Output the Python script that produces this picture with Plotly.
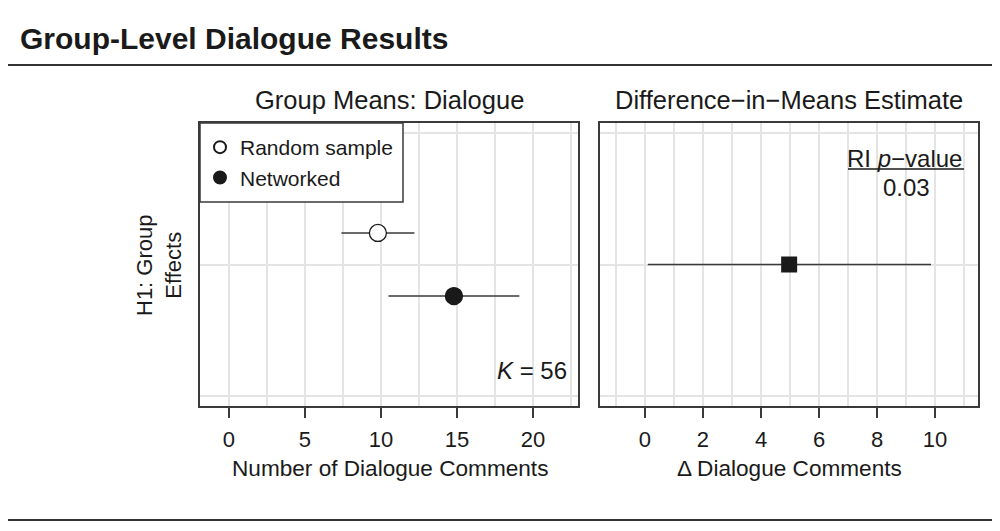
import plotly.graph_objects as go

# ---------------- data ----------------
groups = ["Random sample", "Networked"]
group_means = [9.8, 14.8]
group_ci_low = [7.4, 10.5]
group_ci_high = [12.2, 19.1]

diff_est = [4.97]
diff_ci_low = [0.1]
diff_ci_high = [9.86]

left_ticks = [0, 5, 10, 15, 20]
right_ticks = [0, 2, 4, 6, 8, 10]
p_value_text = "0.03"
n_groups_text = "56"
category_label = "H1: Group<br>Effects"

# ---------------- layout helpers ----------------
# the page body has an 8px margin, so the figure is drawn 8px in from the window edge
OFF = 8
W, H = 1000 - OFF, 531 - OFF
def px(x):
    return (x - OFF) / W
def py(y):
    return 1 - (y - OFF) / H

FONT = "Liberation Sans, Arial, Helvetica, sans-serif"
TXT = "#1a1a1a"
LINE = "#3a3a3a"
GRID = "#e4e4e4"

offsets = [0.24, -0.24]
fills = ["white", TXT]

fig = go.Figure()

for g, m, lo, hi, off, fc in zip(groups, group_means, group_ci_low, group_ci_high, offsets, fills):
    fig.add_trace(go.Scatter(
        x=[m], y=[off], name=g, mode="markers",
        marker=dict(symbol="circle", size=17, color=fc, line=dict(color=TXT, width=1.3)),
        error_x=dict(type="data", symmetric=False, array=[hi - m], arrayminus=[m - lo],
                     width=0, thickness=1.4, color=LINE),
        xaxis="x", yaxis="y", showlegend=True,
    ))

fig.add_trace(go.Scatter(
    x=diff_est, y=[0], mode="markers", name="Difference",
    marker=dict(symbol="square", size=16, color=TXT),
    error_x=dict(type="data", symmetric=False,
                 array=[h - e for h, e in zip(diff_ci_high, diff_est)],
                 arrayminus=[e - l for e, l in zip(diff_est, diff_ci_low)],
                 width=0, thickness=1.4, color=LINE),
    xaxis="x2", yaxis="y2", showlegend=False,
))

y_dom = [py(406), py(123)]
common_x = dict(
    showline=True, mirror=True, linecolor=LINE, linewidth=1.5,
    ticks="outside", ticklen=10, tickwidth=1.5, tickcolor=LINE,
    tickfont=dict(size=22, color=TXT, family=FONT),
    showgrid=True, gridcolor=GRID, gridwidth=1.5, zeroline=False,
    fixedrange=True, ticklabelstandoff=3,
)
common_y = dict(
    range=[-1.076, 1.076], tickmode="array", tickvals=[-1, 0, 1],
    showticklabels=False, ticks="", showgrid=True, gridcolor=GRID, gridwidth=1.5,
    showline=True, mirror=True, linecolor=LINE, linewidth=1.5, zeroline=False,
    domain=y_dom, fixedrange=True,
)

fig.update_layout(
    width=W, height=H,
    margin=dict(l=0, r=0, t=0, b=0),
    paper_bgcolor="white", plot_bgcolor="white",
    font=dict(family=FONT, color=TXT),
    xaxis=dict(domain=[px(200), px(578)], range=[-1.9, 22.96], tickmode="array",
               tickvals=left_ticks, anchor="y",
               minor=dict(dtick=2.5, tick0=0, showgrid=True, gridcolor=GRID, gridwidth=1.5, ticks=""),
               **common_x),
    yaxis=dict(anchor="x", **common_y),
    xaxis2=dict(domain=[px(600), px(978)], range=[-1.55, 11.48], tickmode="array",
                tickvals=right_ticks, anchor="y2",
                minor=dict(dtick=1, tick0=0, showgrid=True, gridcolor=GRID, gridwidth=1.5, ticks=""),
                **common_x),
    yaxis2=dict(anchor="x2", **common_y),
    legend=dict(x=px(200), y=py(127), xanchor="left", yanchor="top",
                bgcolor="rgba(0,0,0,0)", borderwidth=0,
                font=dict(size=21, color=TXT, family=FONT),
                itemsizing="constant", tracegroupgap=0),
    showlegend=True,
)

shapes = []
# dotted zero reference lines (cover grid line first)
for xr in ("x", "x2"):
    shapes.append(dict(type="line", xref=xr, yref="paper", x0=0, x1=0, y0=y_dom[0], y1=y_dom[1],
                       line=dict(color="white", width=2), layer="between"))
    shapes.append(dict(type="line", xref=xr, yref="paper", x0=0, x1=0, y0=y_dom[0], y1=y_dom[1],
                       line=dict(color="#9a9a9a", width=1, dash="dot"), layer="between"))
# legend box
shapes.append(dict(type="rect", xref="paper", yref="paper", x0=px(200), x1=px(403),
                   y0=py(202), y1=py(123), fillcolor="white",
                   line=dict(color=LINE, width=1.5), layer="above"))
# horizontal rules
for yy in (65, 520):
    shapes.append(dict(type="line", xref="paper", yref="paper", x0=0, x1=1, y0=py(yy), y1=py(yy),
                       line=dict(color="#333333", width=2)))
# underline for p-value header
shapes.append(dict(type="line", xref="paper", yref="paper", x0=px(848), x1=px(964),
                   y0=py(169), y1=py(169), line=dict(color=TXT, width=1.3)))
fig.update_layout(shapes=shapes)

ann = []
def A(text, x, y, size, xanchor="center", yanchor="middle", bold=False, angle=0):
    ann.append(dict(text=f"<b>{text}</b>" if bold else text, x=px(x), y=py(y), xref="paper", yref="paper",
                    showarrow=False, xanchor=xanchor, yanchor=yanchor, textangle=angle,
                    font=dict(size=size, color=TXT, family=FONT)))

A("Group-Level Dialogue Results", 18, 38, 30, xanchor="left", bold=True)
A("Group Means: Dialogue", 389, 100, 25.5)
A("Difference\u2212in\u2212Means Estimate", 789, 100, 25.5)
A("Number of Dialogue Comments", 390, 468, 22.6)
A("\u0394 Dialogue Comments", 789, 468, 22.6)
A(category_label, 159, 265, 22, angle=-90)
A("<i>K</i> = " + n_groups_text, 569, 370, 24, xanchor="right")
A("RI <i>p</i>\u2212value", 964, 158, 24, xanchor="right")
A(p_value_text, 906, 187, 24)
fig.update_layout(annotations=ann)

fig.write_html("out.html")
